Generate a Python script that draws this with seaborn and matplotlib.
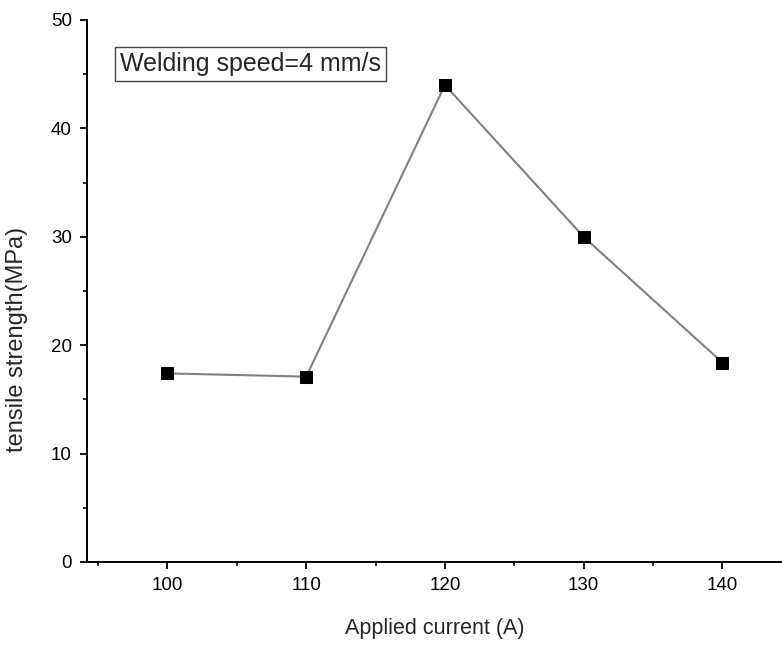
import numpy as np
import pandas as pd
import matplotlib
matplotlib.use("Agg")
import matplotlib.pyplot as plt
import seaborn as sns
from matplotlib.ticker import MultipleLocator

# values
current = [100, 110, 120, 130, 140]
strength = [17.4, 17.1, 44.0, 30.0, 18.4]
xticks = [100, 110, 120, 130, 140]
yticks = [0, 10, 20, 30, 40, 50]

df = pd.DataFrame({"current": current, "strength": strength})

sns.set_style("ticks")
plt.rcParams['font.family'] = ['Liberation Sans', 'DejaVu Sans']

fig = plt.figure(figsize=(7.82, 6.59), dpi=100)
ax = fig.add_axes([87 / 782, 1 - 562 / 659, 1 - 87 / 782, (562 - 20) / 659])

sns.lineplot(data=df, x="current", y="strength", ax=ax, color="#808080",
             linewidth=1.5, marker="s", markersize=9, markerfacecolor="black",
             markeredgecolor="black")

ax.set_xlim(94.2, 144.3)
ax.set_ylim(0, 50)
ax.set_xticks(xticks)
ax.set_yticks(yticks)
ax.xaxis.set_minor_locator(MultipleLocator(5))
ax.yaxis.set_minor_locator(MultipleLocator(5))

sns.despine(ax=ax)
for s in ["left", "bottom"]:
    ax.spines[s].set_linewidth(1.4)
    ax.spines[s].set_color("black")
ax.tick_params(which="major", direction="out", length=5, width=1.3,
               labelsize=13.5, colors="black", pad=6)
ax.tick_params(which="minor", direction="out", length=3, width=1.2, colors="black")

ax.set_xlabel("Applied current (A)", fontsize=15.5, labelpad=17)
ax.set_ylabel("tensile strength(MPa)", fontsize=17)
ax.yaxis.set_label_coords(-0.085, 0.41)

ax.text(0.047, 0.918, "Welding speed=4 mm/s", transform=ax.transAxes,
        fontsize=18, va="center", ha="left",
        bbox=dict(boxstyle="square,pad=0.2", facecolor="white", edgecolor="#444444", linewidth=1))

fig.savefig("out.png", dpi=100)
